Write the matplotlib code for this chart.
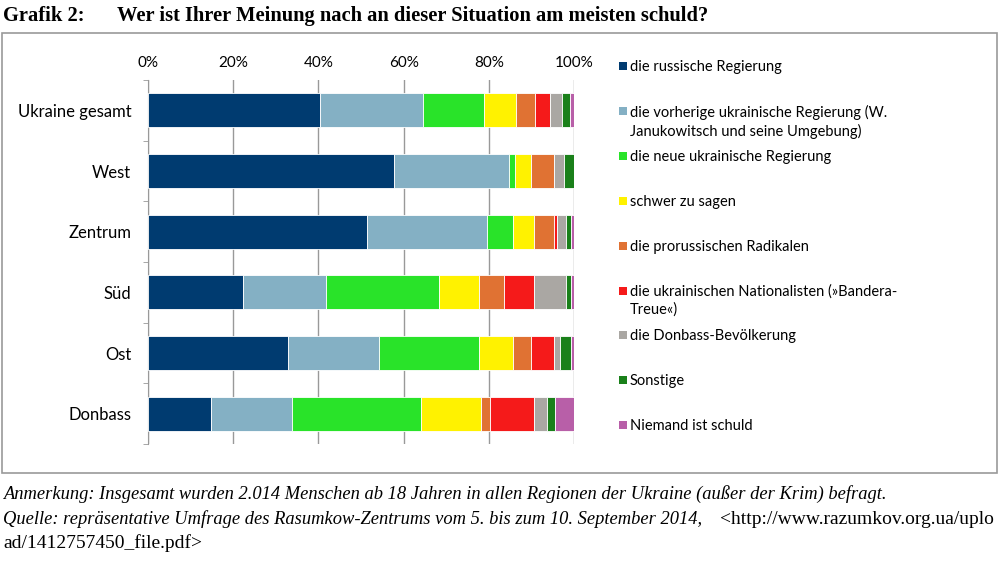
import matplotlib.pyplot as plt
import numpy as np
from matplotlib.patches import Rectangle

# categories (top to bottom) and answers
regions = ['Ukraine gesamt', 'West', 'Zentrum', 'Süd', 'Ost', 'Donbass']
answers = ['die russische Regierung',
           'die vorherige ukrainische Regierung (W.\nJanukowitsch und seine Umgebung)',
           'die neue ukrainische Regierung',
           'schwer zu sagen',
           'die prorussischen Radikalen',
           'die ukrainischen Nationalisten (»Bandera-\nTreue«)',
           'die Donbass-Bevölkerung',
           'Sonstige',
           'Niemand ist schuld']

# values in % per answer, in order of regions
russ_reg = [40.4, 57.7, 51.3, 22.2, 32.9, 14.9]
vorh_reg = [24.2, 27.1, 28.2, 19.6, 21.3, 18.8]
neue_reg = [14.3, 1.3, 6.1, 26.5, 23.6, 30.4]
schwer = [7.4, 3.9, 5.1, 9.4, 7.8, 14.0]
prorussisch = [4.5, 5.2, 4.7, 5.9, 4.3, 2.2]
nationalisten = [3.5, 0.1, 0.5, 7.0, 5.3, 10.3]
donbass_bev = [2.9, 2.4, 2.2, 7.6, 1.4, 3.1]
sonstige = [1.8, 2.3, 1.3, 1.2, 2.7, 1.8]
niemand = [1.0, 0.0, 0.5, 0.5, 0.8, 4.5]

series = [russ_reg, vorh_reg, neue_reg, schwer, prorussisch,
          nationalisten, donbass_bev, sonstige, niemand]
colors = ['#003b70', '#84b0c4', '#29e329', '#fff200', '#e07233',
          '#f51a1a', '#aaa7a3', '#1a801a', '#b85fa8']

sans = ['Lato', 'DejaVu Sans']
serif = ['Liberation Serif', 'DejaVu Serif']

fig = plt.figure(figsize=(10, 5.66), dpi=100)

# frame around chart
fig.patches.append(Rectangle((0.002, 1 - 473 / 566), 0.995, 440 / 566,
                             transform=fig.transFigure, fill=False,
                             edgecolor='#9a9a9a', linewidth=1.2))

ax = fig.add_axes([0.148, 1 - 444 / 566, 0.426, 364 / 566])
y = np.arange(len(regions))
left = np.zeros(len(regions))
for vals, col in zip(series, colors):
    vals = np.array(vals)
    ax.barh(y, vals, left=left, height=0.56, color=col,
            edgecolor='white', linewidth=0.6, zorder=3)
    left += vals

ax.set_xlim(0, 100)
ax.set_ylim(len(regions) - 0.5, -0.5)
ax.set_xticks(np.arange(0, 101, 20))
ax.set_xticklabels(['%d%%' % v for v in range(0, 101, 20)],
                   fontfamily=sans, fontsize=11)
ax.xaxis.tick_top()
ax.tick_params(axis='x', length=0, pad=7.5)
ax.grid(axis='x', color='#999999', linewidth=1.0, zorder=0)

ax.set_yticks(y)
ax.set_yticklabels(regions, fontfamily=sans, fontsize=12)
ax.set_yticks(np.arange(-0.5, len(regions)), minor=True)
ax.tick_params(axis='y', which='major', length=0, pad=12)
ax.tick_params(axis='y', which='minor', length=3.6, color='#999999')

for s in ['top', 'right', 'bottom']:
    ax.spines[s].set_visible(False)
ax.spines['left'].set_color('#999999')

# legend
for i, (lab, col) in enumerate(zip(answers, colors)):
    ypx = 66 + i * 44.9
    fig.patches.append(Rectangle((619 / 1000, 1 - (ypx + 4) / 566), 8 / 1000, 8 / 566,
                                 transform=fig.transFigure, facecolor=col,
                                 edgecolor='none'))
    fig.text(630 / 1000, 1 - (ypx - 6) / 566, lab, fontfamily=sans, fontsize=10.5,
             va='top', ha='left', linespacing=1.3)

# title
fig.text(0.003, 1 - 16 / 566, 'Grafik 2:', fontfamily=serif, fontsize=14.8,
         fontweight='bold', va='center')
fig.text(0.117, 1 - 16 / 566, 'Wer ist Ihrer Meinung nach an dieser Situation am meisten schuld?',
         fontfamily=serif, fontsize=14.8, fontweight='bold', va='center')

# notes
fig.text(0.003, 1 - 494 / 566,
         'Anmerkung: Insgesamt wurden 2.014 Menschen ab 18 Jahren in allen Regionen der Ukraine (außer der Krim) befragt.',
         fontfamily=serif, fontsize=13.3, style='italic', va='center')
fig.text(0.003, 1 - 519 / 566,
         'Quelle: repräsentative Umfrage des Rasumkow-Zentrums vom 5. bis zum 10. September 2014, ',
         fontfamily=serif, fontsize=13.3, style='italic', va='center')
fig.text(0.720, 1 - 519 / 566, '<http://www.razumkov.org.ua/uplo',
         fontfamily=serif, fontsize=14, va='center')
fig.text(0.003, 1 - 543 / 566, 'ad/1412757450_file.pdf>',
         fontfamily=serif, fontsize=14, va='center')

fig.savefig('out.png', dpi=100)
